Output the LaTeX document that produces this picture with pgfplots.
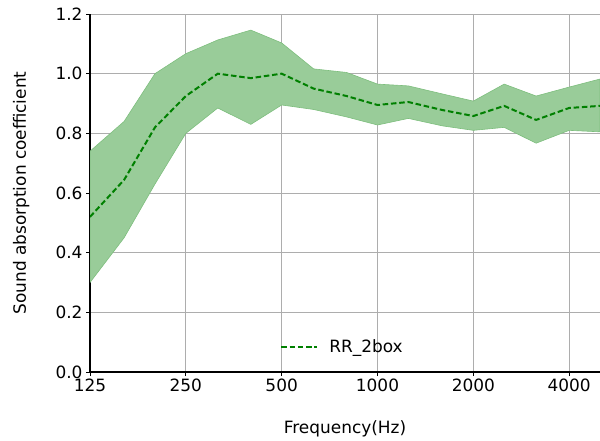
\documentclass[border=0pt]{standalone}
\usepackage{pgfplots}
\pgfplotsset{compat=1.18}
\usepgfplotslibrary{fillbetween}
\usetikzlibrary{calc}
\usepackage{fontspec}
\setmainfont{DejaVu Sans}
\definecolor{mgreen}{HTML}{008000}
\definecolor{bandfill}{HTML}{99CC99}
\definecolor{bandedge}{HTML}{7DBE7D}

\pgfplotstableread{
f     mean   up     lo
125   0.520  0.740  0.300
160   0.644  0.840  0.450
200   0.820  1.000  0.630
250   0.925  1.067  0.800
315   1.000  1.113  0.885
400   0.985  1.146  0.830
500   1.000  1.103  0.895
630   0.950  1.016  0.880
800   0.925  1.004  0.855
1000  0.895  0.965  0.828
1250  0.905  0.959  0.850
1600  0.878  0.932  0.825
2000  0.858  0.908  0.810
2500  0.892  0.965  0.820
3150  0.845  0.925  0.767
4000  0.885  0.955  0.810
5000  0.892  0.982  0.805
}\rrbox

\begin{document}
\begin{tikzpicture}[x=1bp,y=1bp]
\begin{axis}[
  scale only axis,
  width=510bp, height=358bp,
  font=\fontsize{17}{20}\selectfont,
  xmode=log, log basis x=2,
  xmin=125, xmax=5000,
  ymin=0, ymax=1.2,
  xtick={125,250,500,1000,2000,4000},
  xticklabels={125,250,500,1000,2000,4000},
  ytick={0,0.2,...,1.2},
  yticklabel style={/pgf/number format/.cd,fixed,fixed zerofill,precision=1},
  /pgf/number format/assume math mode=true,
  xticklabel style={yshift=1bp},
  axis x line*=bottom, axis y line*=left,
  axis line style={line width=2.8bp, black},
  tick style={black, line width=0.8bp},
  tick align=outside,
  major tick length=4bp,
  grid=major,
  grid style={color=black!32, line width=0.7bp},
  xlabel={Frequency(Hz)},
  ylabel={Sound absorption coefficient},
  xlabel style={at={(axis description cs:0.5,-0.159)}, anchor=center},
  ylabel style={at={(axis description cs:-0.135,0.5)}, anchor=center, rotate=0},
  legend style={draw=none, fill=none, at={(axis description cs:0.495,0.07)}, anchor=center,
    font=\fontsize{17}{20}\selectfont,
    /tikz/every odd column/.append style={column sep=9bp}},
  legend image code/.code={\draw[#1] (0bp,0bp) -- (36bp,0bp);},
  legend cell align=left,
  clip=true,
]
\addplot[name path=up, draw=none, forget plot] table[x=f, y=up] {\rrbox};
\addplot[name path=lo, draw=none, forget plot] table[x=f, y=lo] {\rrbox};
\addplot[fill=bandfill, draw=bandedge, line width=0.6bp, forget plot] fill between[of=up and lo];
\addplot[mgreen, line width=2bp, dash pattern=on 5.5bp off 2.8bp] table[x=f, y=mean] {\rrbox};
\addlegendentry{RR\_2box}
\end{axis}
\pgfresetboundingbox
\path ($(current axis.south west)+(-90bp,-69bp)$) rectangle ($(current axis.north east)+(0bp,14bp)$);
\end{tikzpicture}
\end{document}
